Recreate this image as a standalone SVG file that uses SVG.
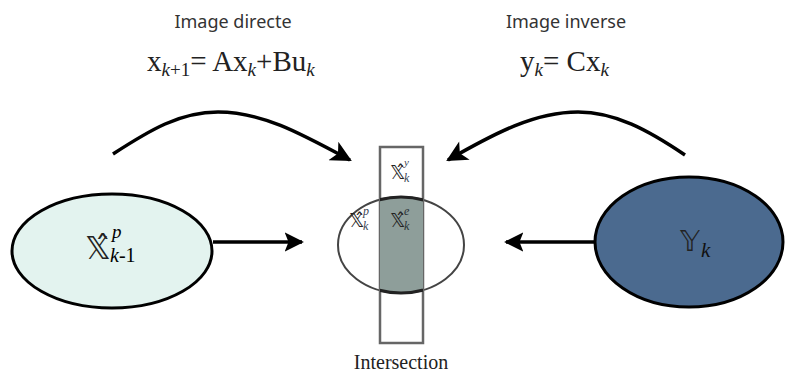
<svg xmlns="http://www.w3.org/2000/svg" width="787" height="376" viewBox="0 0 787 376">
<style>
.lbl{font-family:"Noto Sans","Open Sans","DejaVu Sans",sans-serif;font-size:18px;fill:#333;text-anchor:middle}
.eq{font-family:"Liberation Serif","DejaVu Serif",serif;font-size:29px;fill:#222}
.sub{font-size:19px;font-style:italic}
.sym{font-family:"DejaVu Sans","DejaVu Serif",serif;fill:#222}
.it{font-family:"Liberation Serif","DejaVu Serif",serif;font-style:italic}
.conn{fill:none;stroke:#000;stroke-width:3.5}
</style>
<defs>
<marker id="ah" viewBox="0 0 10 10" refX="9" refY="5" markerWidth="6.5" markerHeight="6" markerUnits="strokeWidth" orient="auto">
<path d="M0,0 L10,5 L0,10 L2.5,5 z" fill="#000"/>
</marker>
<marker id="ah2" viewBox="0 0 10 10" refX="9" refY="5" markerWidth="5.5" markerHeight="6" markerUnits="strokeWidth" orient="auto">
<path d="M0,0 L10,5 L0,10 L2,5 z" fill="#000"/>
</marker>
<clipPath id="rc"><rect x="380" y="147" width="43" height="196"/></clipPath>
</defs>

<text class="lbl" x="233" y="28">Image directe</text>
<text class="lbl" x="566" y="28">Image inverse</text>
<text class="eq" x="147" y="71">x<tspan class="sub" dy="5">k</tspan><tspan font-size="19">+1</tspan><tspan dy="-5">= Ax</tspan><tspan class="sub" dy="5">k</tspan><tspan dy="-5">+Bu</tspan><tspan class="sub" dy="5">k</tspan></text>
<text class="eq" x="520" y="71">y<tspan class="sub" dy="5">k</tspan><tspan dy="-5">= Cx</tspan><tspan class="sub" dy="5">k</tspan></text>

<g id="connectors">
<path class="conn" marker-end="url(#ah)" d="M113,154 C150,130 180,112 218,112 C262,112 300,133 350,160"/>
<path class="conn" marker-end="url(#ah)" d="M685,155 C648,130 615,112 578,112 C535,112 495,133 448,160"/>
<path class="conn" marker-end="url(#ah2)" d="M213,242 L302,242"/>
<path class="conn" marker-end="url(#ah2)" d="M595,242 L506,242"/>
</g>

<g id="node-left">
<ellipse cx="112" cy="251" rx="100" ry="57" fill="#e3f3ef" stroke="#000" stroke-width="3"/>
<text class="sym" x="85" y="259" font-size="32">𝕏̂</text>
<text class="it" x="112" y="238" font-size="19">p</text>
<text class="it" x="110" y="262" font-size="20">k<tspan font-style="normal">-1</tspan></text>
</g>

<g id="node-intersection">
<ellipse cx="401" cy="245" rx="63" ry="48" fill="#fff" stroke="#444" stroke-width="2"/>
<rect x="380" y="147" width="43" height="196" fill="none" stroke="#666" stroke-width="2.5"/>
<g clip-path="url(#rc)">
<ellipse cx="401" cy="245" rx="63" ry="48" fill="#8e9e9a" stroke="#222" stroke-width="3"/>
</g>
<text class="sym" x="390" y="179" font-size="19" fill="#3a4556">𝕏̂</text>
<text class="it" x="404" y="166" font-size="11" fill="#3a4556">y</text>
<text class="it" x="404" y="182" font-size="12" fill="#3a4556">k</text>
<text class="sym" x="349" y="227" font-size="19" fill="#3a4556">𝕏̂</text>
<text class="it" x="363" y="215" font-size="12" fill="#3a4556">p</text>
<text class="it" x="363" y="230" font-size="12" fill="#3a4556">k</text>
<text class="sym" x="390" y="227" font-size="19" fill="#2a3236">𝕏̂</text>
<text class="it" x="404" y="215" font-size="12" fill="#2a3236">e</text>
<text class="it" x="404" y="230" font-size="12" fill="#2a3236">k</text>
<text x="401" y="369" font-family="Liberation Serif,serif" font-size="20" fill="#222" text-anchor="middle">Intersection</text>
</g>

<g id="node-right">
<ellipse cx="689" cy="242" rx="94" ry="65" fill="#4b6a8f" stroke="#000" stroke-width="3"/>
<text class="sym" x="680" y="251" font-size="28" fill="#111">𝕐</text>
<text class="it" x="701" y="257" font-size="21" fill="#111">k</text>
</g>
</svg>
